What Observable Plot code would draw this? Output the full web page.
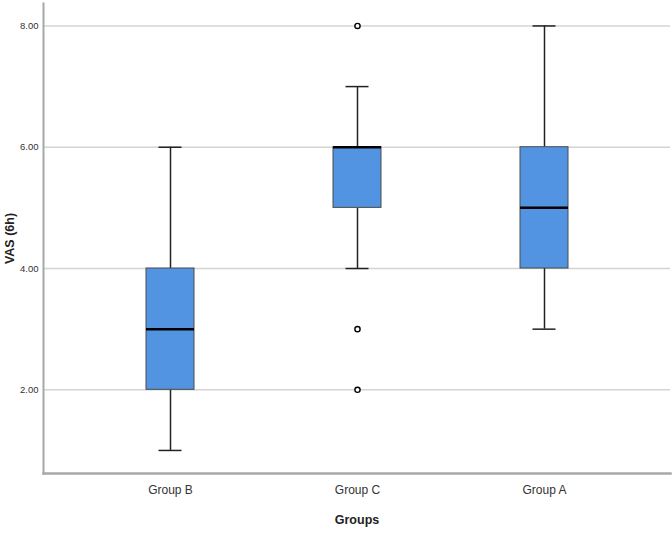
<!DOCTYPE html>
<html>
<head>
<meta charset="utf-8">
<script src="https://cdn.jsdelivr.net/npm/d3@7"></script>
<script src="https://cdn.jsdelivr.net/npm/@observablehq/plot@0.6"></script>
<style>
  html, body { margin: 0; padding: 0; background: #fff; }
  #chart svg { display: block; }
</style>
</head>
<body>
<div id="chart"></div>
<script>
const groups = ["Group B", "Group C", "Group A"];
const lowWhisker = [1, 4, 3];
const q1 = [2, 5, 4];
const median = [3, 6, 5];
const q3 = [4, 6, 6];
const highWhisker = [6, 7, 8];
const outlierGroup = ["Group C", "Group C", "Group C"];
const outlierValue = [8, 3, 2];
const yTicks = [2, 4, 6, 8];

const boxes = groups.map((g, i) => ({
  group: g, lo: lowWhisker[i], q1: q1[i], med: median[i], q3: q3[i], hi: highWhisker[i]
}));
const outliers = outlierGroup.map((g, i) => ({ group: g, value: outlierValue[i] }));

const font = "'Liberation Sans', Arial, sans-serif";

const chart = Plot.plot({
  width: 672,
  height: 533,
  marginLeft: 43,
  marginRight: 2,
  marginTop: 3,
  marginBottom: 60,
  style: { fontFamily: font, background: "#fff" },
  x: { type: "band", domain: groups, paddingInner: 0.744, paddingOuter: 0.544 },
  y: { domain: [0.62, 8.37] },
  marks: [
    Plot.gridY(yTicks, { stroke: "#d4d4d4", strokeOpacity: 1, strokeWidth: 1.5 }),
    Plot.ruleX(boxes, { x: "group", y1: "lo", y2: "q1", stroke: "#222", strokeWidth: 1.5 }),
    Plot.ruleX(boxes, { x: "group", y1: "q3", y2: "hi", stroke: "#222", strokeWidth: 1.5 }),
    Plot.tickY(boxes, { x: "group", y: "lo", stroke: "#222", strokeWidth: 1.5, insetLeft: 12.5, insetRight: 12.5 }),
    Plot.tickY(boxes, { x: "group", y: "hi", stroke: "#222", strokeWidth: 1.5, insetLeft: 12.5, insetRight: 12.5 }),
    Plot.barY(boxes, { x: "group", y1: "q1", y2: "q3", fill: "#5294e2", stroke: "#4a4a4a", strokeWidth: 1 }),
    Plot.tickY(boxes, { x: "group", y: "med", stroke: "#000", strokeWidth: 2.5 }),
    Plot.dot(outliers, { x: "group", y: "value", r: 2.6, stroke: "#000", strokeWidth: 1.4, fill: "#fff" }),
    Plot.axisY(yTicks, {
      tickSize: 0, tickPadding: 5, tickFormat: d => d.toFixed(2),
      fontSize: 9.5, fill: "#333",
      label: "VAS (6h)", labelAnchor: "center", labelArrow: "none", labelOffset: 38
    }),
    Plot.axisX({
      tickSize: 0, tickPadding: 12, fontSize: 12, fill: "#333",
      label: "Groups", labelAnchor: "center", labelArrow: "none", labelOffset: 50
    }),
    Plot.frame({ anchor: "left", stroke: "#a8a8a8", strokeWidth: 2 }),
    Plot.frame({ anchor: "bottom", stroke: "#a8a8a8", strokeWidth: 2.5 })
  ]
});

// Bold axis titles
chart.querySelectorAll("[aria-label='y-axis label'] text, [aria-label='x-axis label'] text").forEach(t => {
  t.style.fontWeight = "bold";
  t.style.fontSize = "12.5px";
  t.style.fill = "#222";
});
document.getElementById("chart").appendChild(chart);
</script>
</body>
</html>
